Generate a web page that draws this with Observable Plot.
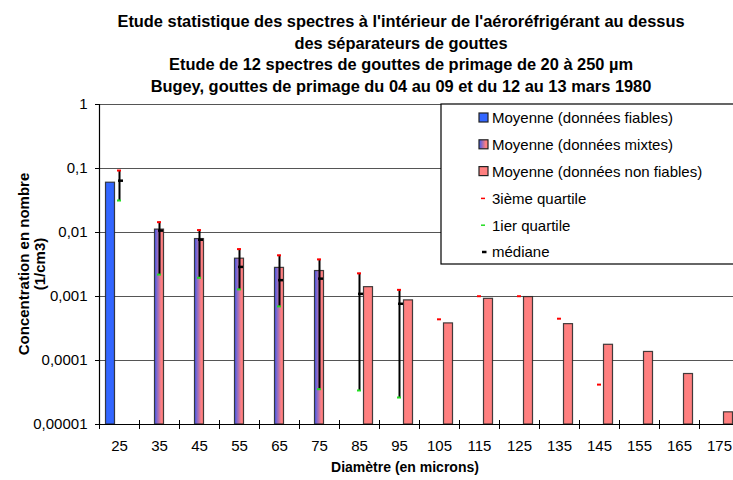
<!DOCTYPE html>
<html><head><meta charset="utf-8">
<script src="https://cdn.jsdelivr.net/npm/d3@7"></script>
<script src="https://cdn.jsdelivr.net/npm/@observablehq/plot@0.6"></script>
<style>body{margin:0;background:#fff}#chart svg{display:block}</style>
</head><body><div id="chart"></div>
<script>
const diameters = ["25","35","45","55","65","75","85","95","105","115","125","135","145","155","165","175"];
const moyenne = [0.06, 0.0111, 0.0079, 0.0039, 0.0028, 0.0025, 0.0014, 0.00087, 0.00038, 0.00092, 0.00098, 0.00037, 0.000176, 0.000136, 0.0000615, 0.0000155];
const fiabilite = ["fiables","mixtes","mixtes","mixtes","mixtes","mixtes","non","non","non","non","non","non","non","non","non","non"];
const quartile3 = [0.093, 0.0145, 0.0109, 0.0055, 0.0044, 0.0038, 0.0023, 0.00127, 0.00044, 0.00101, 0.00101, 0.00045, 0.000042, null, null, null];
const quartile1 = [0.0316, 0.0022, 0.00196, 0.00129, 0.0007, 0.0000356, 0.000034, 0.0000264, null, null, null, null, null, null, null, null];
const mediane = [0.0645, 0.0107, 0.0077, 0.0029, 0.0018, 0.0019, 0.0011, 0.00077, null, null, null, null, null, null, null, null];
const yTicks = [0.00001, 0.0001, 0.001, 0.01, 0.1, 1];
const yTickLabels = ["0,00001", "0,0001", "0,001", "0,01", "0,1", "1"];
const titleLines = [
  "Etude statistique des spectres à l'intérieur de l'aéroréfrigérant au dessus",
  "des séparateurs de gouttes",
  "Etude de 12 spectres de gouttes de primage de 20 à 250 µm",
  "Bugey, gouttes de primage du 04 au 09 et du 12 au 13 mars 1980"
];
const yTitleLines = ["Concentration en nombre", "(1/cm3)"];
const xTitle = "Diamètre (en microns)";
const legendLabels = ["Moyenne (données fiables)", "Moyenne (données mixtes)", "Moyenne (données non fiables)", "3ième quartile", "1ier quartile", "médiane"];

const colBlue = "#3366ff", colPink = "#ff8080", colRed = "#ff0000", colGreen = "#22dd22";
const rows = diameters.map((d, i) => ({d, moy: moyenne[i], q: fiabilite[i], q3: quartile3[i], q1: quartile1[i], med: mediane[i]}));
const labelMap = new Map(yTicks.map((t, i) => [t, yTickLabels[i]]));
const baseline = yTicks[0];
const barStyle = {stroke: "#222", strokeWidth: 1.2, strokeOpacity: 0.85};
const FONT = "'Liberation Sans', Arial, sans-serif";

const chart = Plot.plot({
  width: 733, height: 480,
  marginTop: 104, marginBottom: 56, marginLeft: 99, marginRight: 0,
  style: {fontFamily: FONT, fontSize: "15px", color: "black", background: "white"},
  x: {type: "band", domain: diameters, range: [99, 739], padding: 0},
  y: {type: "log", domain: [baseline, 1]},
  marks: [
    Plot.gridY(yTicks, {stroke: "#555", strokeOpacity: 1, strokeWidth: 1}),
    Plot.barY(rows.filter(r => r.q === "fiables"), {x: "d", y1: baseline, y2: "moy", fill: colBlue, insetLeft: 6.5, insetRight: 24.5, ...barStyle}),
    Plot.barY(rows.filter(r => r.q === "mixtes"), {x: "d", y1: baseline, y2: "moy", fill: "url(#gradMixte)", insetLeft: 15.5, insetRight: 15.5, ...barStyle}),
    Plot.barY(rows.filter(r => r.q === "non"), {x: "d", y1: baseline, y2: "moy", fill: colPink, insetLeft: 24.5, insetRight: 6.5, ...barStyle}),
    Plot.ruleY([baseline], {stroke: "black", strokeWidth: 1.2}),
    Plot.frame({anchor: "left", stroke: "black", strokeWidth: 1.2}),
    Plot.ruleX(rows.filter(r => r.q1 != null), {x: "d", y1: "q3", y2: "q1", stroke: "black", strokeWidth: 2}),
    Plot.tickY(rows.filter(r => r.q3 != null), {x: "d", y: "q3", stroke: colRed, strokeWidth: 2, insetLeft: 18, insetRight: 18}),
    Plot.tickY(rows.filter(r => r.q1 != null), {x: "d", y: "q1", stroke: colGreen, strokeWidth: 2, insetLeft: 18, insetRight: 18}),
    Plot.tickY(rows.filter(r => r.med != null), {x: "d", y: "med", stroke: "black", strokeWidth: 2.5, insetLeft: 19, insetRight: 16}),
    Plot.axisY({ticks: yTicks, tickFormat: d => labelMap.get(d), tickSize: 4, tickPadding: 8, label: null}),
    Plot.axisX({tickSize: 9, dy: -4, dx: -20, text: null, label: null}),
    Plot.axisX({tickSize: 0, tickPadding: 16, label: null})
  ]
});
document.getElementById("chart").appendChild(chart);

const svg = d3.select(chart);
const grad = svg.insert("defs", ":first-child").append("linearGradient")
  .attr("id", "gradMixte").attr("x1", 0).attr("x2", 1).attr("y1", 0).attr("y2", 0);
grad.append("stop").attr("offset", "0%").attr("stop-color", "#3f5cf5");
grad.append("stop").attr("offset", "75%").attr("stop-color", colPink);
grad.append("stop").attr("offset", "100%").attr("stop-color", colPink);

// titles
const t = svg.append("g").attr("font-family", FONT).attr("font-weight", "bold").attr("fill", "black").attr("text-anchor", "middle");
titleLines.forEach((s, i) => t.append("text").attr("font-size", 16.4).attr("x", 401).attr("y", 27 + i * 21.7).text(s));
t.append("text").attr("font-size", 14).attr("x", 405).attr("y", 472).text(xTitle);
yTitleLines.forEach((s, i) => t.append("text").attr("font-size", 15).attr("transform", `translate(${29 + i * 16},264) rotate(-90)`).text(s));

// legend
const lg = svg.append("g").attr("font-family", FONT).attr("font-size", 15).attr("text-anchor", "start");
lg.append("rect").attr("x", 441).attr("y", 104).attr("width", 300).attr("height", 160).attr("fill", "white").attr("stroke", "black").attr("stroke-width", 1.2);
const swatchFills = [colBlue, "url(#gradMixte)", colPink];
legendLabels.forEach((s, i) => {
  const y = 118 + i * 26.8;
  if (i < 3) {
    lg.append("rect").attr("x", 479).attr("y", y - 5).attr("width", 9).attr("height", 9).attr("fill", swatchFills[i]).attr("stroke", "#222").attr("stroke-width", 1.2);
  } else {
    const c = [colRed, colGreen, "black"][i - 3];
    lg.append("line").attr("x1", i === 5 ? 482 : 481).attr("x2", i === 5 ? 486.5 : 485).attr("y1", y).attr("y2", y).attr("stroke", c).attr("stroke-width", i === 5 ? 2.5 : 1.5);
  }
  lg.append("text").attr("x", 492).attr("y", y + 5.3).text(s);
});
</script></body></html>
